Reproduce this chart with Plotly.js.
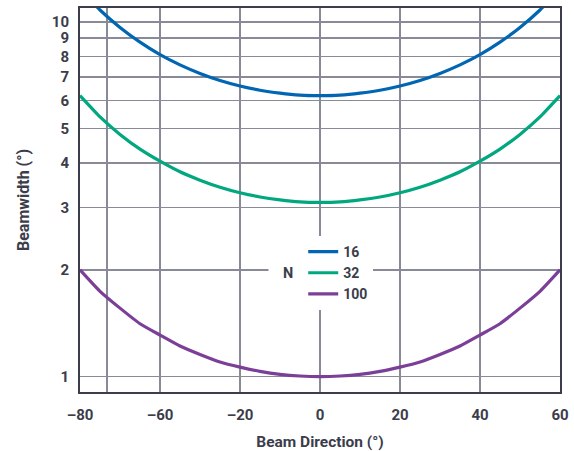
<!DOCTYPE html>
<html>
<head>
<meta charset="utf-8">
<script src="https://cdn.plot.ly/plotly-3.0.1.min.js"></script>
<style>html,body{margin:0;padding:0;background:#fff;}#chart{width:574px;height:451px;}</style>
</head>
<body>
<div id="chart"></div>
<script>
// Beam direction (degrees, plotted position)
const beamDirection = [-60,-55,-50,-45,-40,-35,-30,-25,-20,-15,-10,-5,0,5,10,15,20,25,30,35,40,45,50,55,60];
// Beamwidth (degrees) for each N
const bwN16  = [12.4,10.81,9.65,8.77,8.09,7.57,7.16,6.84,6.60,6.42,6.30,6.22,6.20,6.22,6.30,6.42,6.60,6.84,7.16,7.57,8.09,8.77,9.65,10.81,12.4];
const bwN32  = [6.20,5.40,4.82,4.38,4.05,3.78,3.58,3.42,3.30,3.21,3.15,3.11,3.10,3.11,3.15,3.21,3.30,3.42,3.58,3.78,4.05,4.38,4.82,5.40,6.20];
const bwN100 = [2.00,1.74,1.56,1.41,1.31,1.22,1.155,1.10,1.064,1.035,1.015,1.004,1.00,1.004,1.015,1.035,1.064,1.10,1.155,1.22,1.31,1.41,1.56,1.74,2.00];
const seriesNames = ["16","32","100"];
const seriesColors = ["#0066b3","#00a77f","#7b3f98"];
const legendTitle = "N";
// x tick positions and the labels printed on the original
const xTickVals = [-60,-53.3,-40,-20,0,20,40,60];
const xTickText = ["\u201380","","\u201360","\u201320","0","20","40","60"];
const yTickVals = [1,2,3,4,5,6,7,8,9,10];

const ys = [bwN16, bwN32, bwN100];
const traces = ys.map((y,i)=>({
  x: beamDirection, y: y, type:'scatter', mode:'lines', name: seriesNames[i],
  line:{color:seriesColors[i], width:3.2, shape:'spline', smoothing:0.5}
}));

const textColor = '#3b3d4a';
const gridColor = '#888b97';
const layout = {
  width:574, height:451,
  margin:{l:80, r:14, t:8, b:59},
  paper_bgcolor:'#fff', plot_bgcolor:'#fff',
  font:{family:'Roboto, "DejaVu Sans", sans-serif', color:textColor, size:14, weight:700},
  showlegend:true,
  legend:{
    x:0.465, xanchor:'left', y:0.31, yanchor:'middle',
    bgcolor:'#ffffff', borderwidth:0,
    font:{size:14, color:textColor, weight:700},
    itemwidth:30, tracegroupgap:0
  },
  annotations:[{
    text:legendTitle, xref:'paper', yref:'paper', x:0.434, y:0.31,
    xanchor:'center', yanchor:'middle', showarrow:false,
    bgcolor:'#ffffff', width:36, height:22,
    font:{size:14.5, color:textColor, weight:700}
  }],
  xaxis:{
    range:[-60,60], tickmode:'array', tickvals:xTickVals, ticktext:xTickText,
    showgrid:true, gridcolor:gridColor, gridwidth:1.5,
    showline:true, linecolor:'#3b3d4a', linewidth:2, mirror:true,
    zeroline:false, ticks:'', ticklabelstandoff:8,
    tickfont:{size:15, color:textColor, weight:700},
    title:{text:'Beam Direction (°)', font:{size:15.5, color:textColor, weight:700}, standoff:14}
  },
  yaxis:{
    type:'log', range:[Math.log10(0.905), Math.log10(10.95)],
    tickmode:'array', tickvals:yTickVals, ticktext:yTickVals.map(String),
    showgrid:true, gridcolor:gridColor, gridwidth:1.5,
    showline:true, linecolor:'#3b3d4a', linewidth:2, mirror:true,
    zeroline:false, ticks:'', ticklabelstandoff:6,
    tickfont:{size:15, color:textColor, weight:700},
    title:{text:'Beamwidth (°)', font:{size:16, color:textColor, weight:700}, standoff:18}
  }
};
Plotly.newPlot('chart', traces, layout, {displayModeBar:false, staticPlot:true});
</script>
</body>
</html>
